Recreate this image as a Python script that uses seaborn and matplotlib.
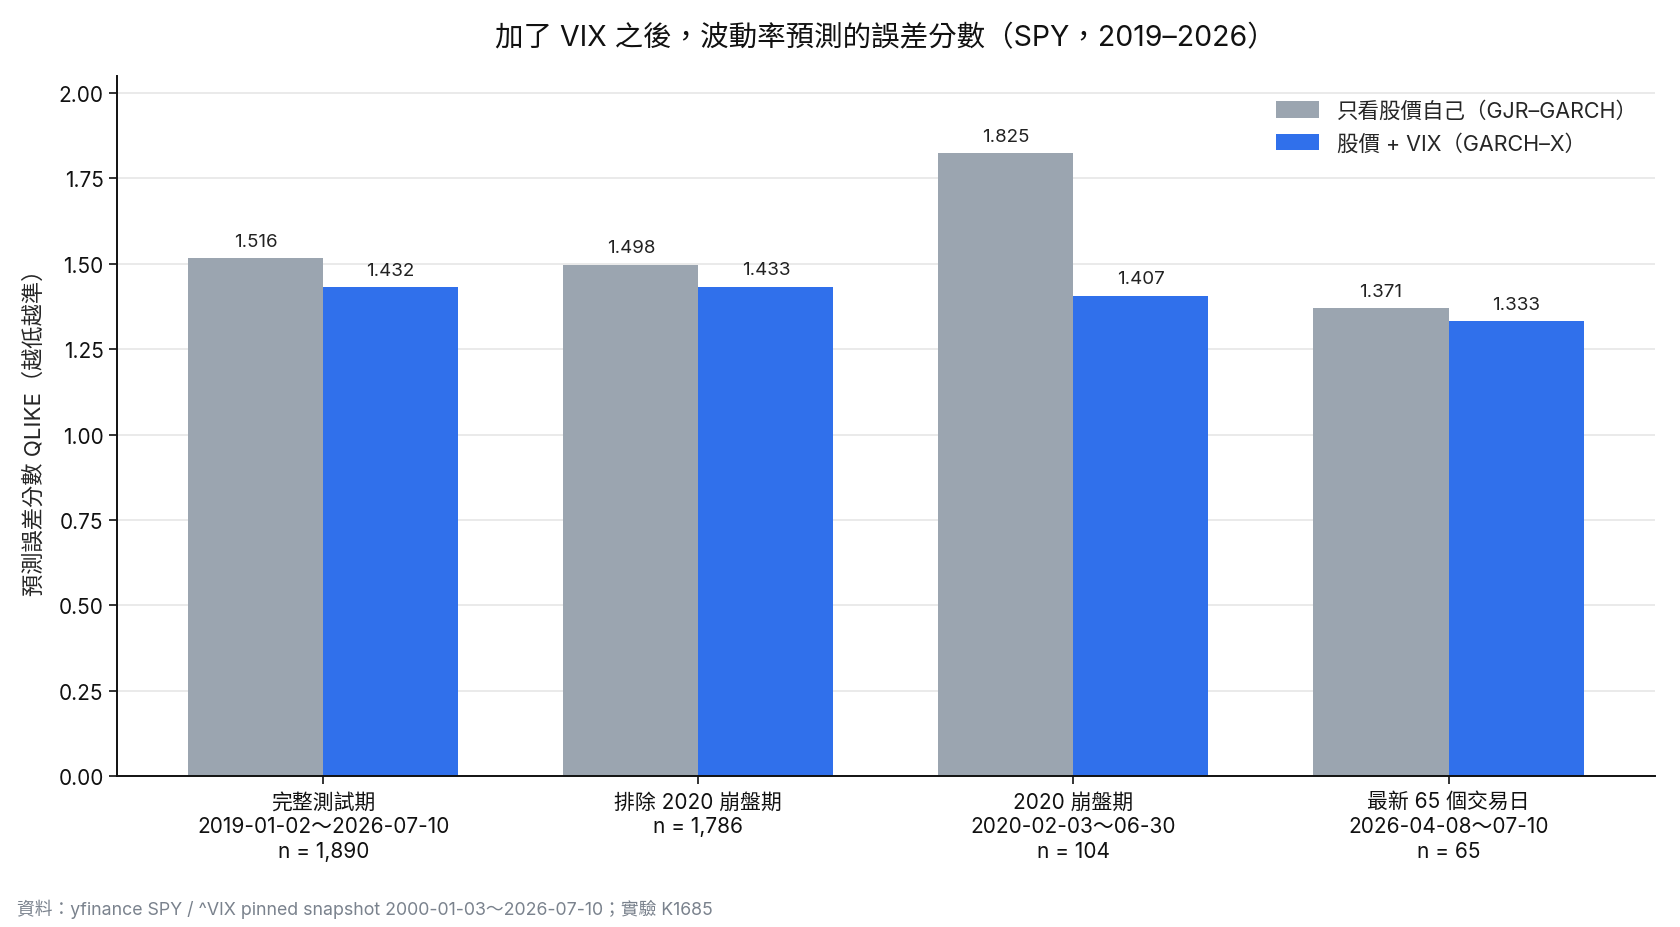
import seaborn as sns
import pandas as pd
import matplotlib.pyplot as plt

# data
periods = [
    '完整測試期\n2019-01-02～2026-07-10\nn = 1,890',
    '排除 2020 崩盤期\nn = 1,786',
    '2020 崩盤期\n2020-02-03～06-30\nn = 104',
    '最新 65 個交易日\n2026-04-08～07-10\nn = 65',
]
models = ['只看股價自己（GJR–GARCH）', '股價 + VIX（GARCH–X）']
qlike_gjr = [1.516, 1.498, 1.825, 1.371]
qlike_x = [1.432, 1.433, 1.407, 1.333]
colors = ['#9BA5B0', '#3070EB']

df = pd.DataFrame({
    'period': periods * 2,
    'model': [models[0]] * 4 + [models[1]] * 4,
    'qlike': qlike_gjr + qlike_x,
})

sns.set_theme(style='white')
plt.rcParams['font.family'] = ['Inter', 'Noto Sans CJK TC', 'DejaVu Sans']
plt.rcParams['axes.unicode_minus'] = False

fig = plt.figure(figsize=(16.8, 9.28), dpi=100)
ax = fig.add_axes([0.0696, 0.1627, 0.9154, 0.7543])

sns.barplot(
    data=df, x='period', y='qlike', hue='model',
    palette=colors, width=0.72, saturation=1, linewidth=0, ax=ax, zorder=2,
)

for cont in ax.containers:
    ax.bar_label(cont, fmt='%.3f', padding=6, fontsize=13.5, color='#222222')

ax.set_ylim(0, 2.05)
ax.set_xlim(-0.55, 3.55)
ax.set_yticks([0, 0.25, 0.5, 0.75, 1.0, 1.25, 1.5, 1.75, 2.0])
ax.set_yticklabels([f'{v:.2f}' for v in ax.get_yticks()])
ax.yaxis.grid(True, color='#E6E6E6', linewidth=1.2, zorder=0)
ax.set_axisbelow(True)
ax.tick_params(axis='both', labelsize=15, colors='#111111', length=6, width=1.2,
               left=True, bottom=True)
ax.tick_params(axis='x', labelsize=15, pad=5)
for lbl in ax.get_xticklabels():
    lbl.set_linespacing(1.3)
ax.set_xlabel('')
ax.set_ylabel('預測誤差分數 QLIKE（越低越準）', fontsize=16, labelpad=10)
for s in ['top', 'right']:
    ax.spines[s].set_visible(False)
for s in ['left', 'bottom']:
    ax.spines[s].set_color('#111111')
    ax.spines[s].set_linewidth(1.4)

ax.legend(loc='upper right', frameon=False, fontsize=15.5, handlelength=2.0,
          handleheight=0.8, handletextpad=0.8, labelspacing=0.55,
          bbox_to_anchor=(1.0, 0.99), borderaxespad=0.4)

ax.set_title('加了 VIX 之後，波動率預測的誤差分數（SPY，2019–2026）',
             fontsize=20.5, pad=22, color='#111111')
fig.text(0.01, 0.01, '資料：yfinance SPY / ^VIX pinned snapshot 2000-01-03～2026-07-10；實驗 K1685',
         fontsize=12.8, color='#7A828D', ha='left', va='bottom')

fig.savefig('out.png', dpi=100)
